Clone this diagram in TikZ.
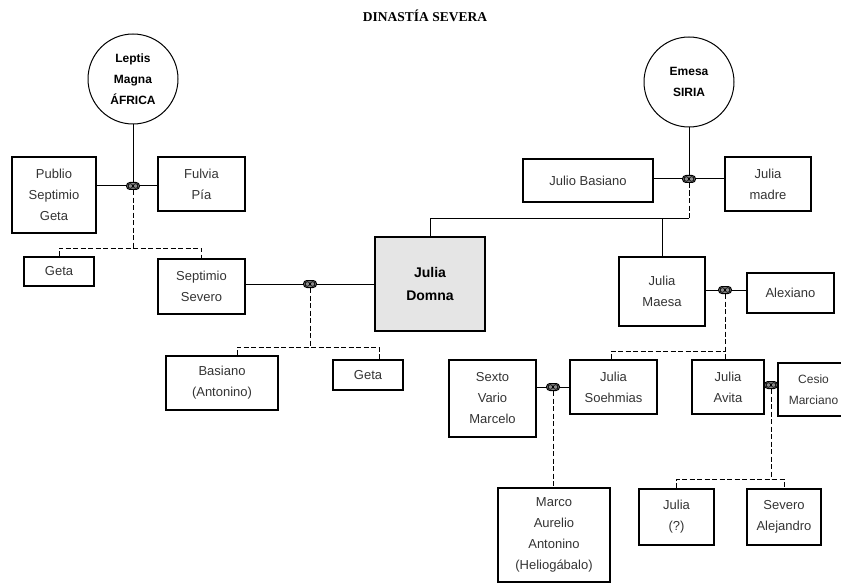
\documentclass[tikz,border=0pt]{standalone}
\usepackage{fontspec}
\setmainfont{Liberation Sans}
\newfontfamily\titlefont{Liberation Serif}
\usetikzlibrary{positioning}

\begin{document}
\begin{tikzpicture}[x=1pt, y=-1pt, line width=1pt,
        persona/.style 2 args={draw, line width=1.1pt, inner sep=0pt, align=center,
                minimum width=#1pt, minimum height=#2pt, text=black!80,
                font=\fontsize{13}{21}\selectfont},
        lugar/.style={circle, draw, line width=1pt, minimum size=90pt, inner sep=0pt,
                align=center, font=\bfseries\fontsize{12}{21}\selectfont},
        boda/.style={draw, fill=black!45, rectangle, rounded corners=3.4pt, inner sep=0pt,
                minimum width=13pt, minimum height=7pt,
                path picture={\draw[line width=0.7pt]
                  ([xshift=-2.6pt]path picture bounding box.center) circle (2.3pt)
                  ([xshift=2.6pt]path picture bounding box.center) circle (2.3pt);}},
        hijo/.style={dash pattern=on 5pt off 2.5pt}]
  \path[use as bounding box, clip] (0,0) rectangle (841,583);

  \node[font=\titlefont\bfseries\fontsize{13.5}{15}\selectfont] (tit) at (425,16) {DINASTÍA SEVERA};

  % familia de Leptis Magna
  \node[lugar] (lep) at (133,79) {Leptis\\Magna\\ÁFRICA};
  \node[persona={84}{76}] (pub) at (54,195) {Publio\\Septimio\\Geta};
  \node[persona={87}{54}] (ful) at (201.5,184) {Fulvia\\Pía};
  \node[boda] (b1) at (133,186) {};
  \coordinate (j1) at (133,248);
  \node[persona={70}{29}] (get1) at (59,271.5) {Geta};
  \node[persona={87}{55}] (sev) at (201.5,286.5) {Septimio\\Severo};

  \node[persona={110}{94}, fill=black!10, text=black,
        font=\bfseries\fontsize{14}{23}\selectfont] (dom) at (430,284) {Julia\\Domna};
  \node[boda] (b2) at (310,284) {};
  \coordinate (j2) at (310,347);
  \node[persona={112}{54}] (bas) at (222,383) {Basiano\\(Antonino)};
  \node[persona={70}{30}] (get2) at (368,375) {Geta};

  % familia de Emesa
  \node[lugar] (eme) at (689,82) {Emesa\\SIRIA};
  \node[persona={130}{43}] (jba) at (588,180.5) {Julio Basiano};
  \node[persona={86}{54}] (jma) at (768,184) {Julia\\madre};
  \node[boda] (b3) at (689,179) {};
  \coordinate (j3) at (689,218);
  \node[persona={86}{69}] (mae) at (662,291.5) {Julia\\Maesa};
  \node[persona={87}{40}] (ale) at (790.5,293) {Alexiano};
  \node[boda] (b4) at (725,290) {};
  \coordinate (j4) at (725,351);
  \node[persona={87}{77}] (sex) at (492.5,398.5) {Sexto\\Vario\\Marcelo};
  \node[persona={87}{54}] (soe) at (613.5,387) {Julia\\Soehmias};
  \node[boda] (b5) at (553,387) {};
  \node[persona={72}{54}] (avi) at (728,387) {Julia\\Avita};
  \node[persona={87}{53}] (ces) at (821.5,389.5) {};
  \node[align=center, inner sep=0pt, text=black!80,
        font=\fontsize{12}{21}\selectfont] (cesnom) at (813.5,389.5) {Cesio\\Marciano};
  \node[boda] (b6) at (771,385) {};
  \coordinate (j6) at (771,479);
  \node[persona={112}{94}] (mar) at (554,535) {Marco\\Aurelio\\Antonino\\(Heliogábalo)};
  \node[persona={75}{56}] (jul) at (676.5,517) {Julia\\(?)};
  \node[persona={74}{56}] (sal) at (784,517) {Severo\\Alejandro};

  % uniones
  \draw (lep) -- (b1);
  \draw (pub.east |- b1) -- (b1) -- (ful.west |- b1);
  \draw[hijo] (b1) -- (j1);
  \draw[hijo] (get1.north) |- (j1) -| (sev.north);

  \draw (sev.east |- b2) -- (b2) -- (dom.west |- b2);
  \draw[hijo] (b2) -- (j2);
  \draw[hijo] ([xshift=15pt]bas.north) |- (j2) -| ([xshift=11pt]get2.north);

  \draw (eme) -- (b3);
  \draw (jba.east |- b3) -- (b3) -- (jma.west |- b3);
  \draw[hijo] (b3) -- (j3);
  \draw (dom.north) |- (j3);
  \draw (mae.north) -- (mae.north |- j3);

  \draw (mae.east |- b4) -- (b4) -- (ale.west |- b4);
  \draw[hijo] (b4) -- (b4 |- avi.north);
  \draw[hijo] ([xshift=-2pt]soe.north) |- (j4);

  \draw (sex.east |- b5) -- (b5) -- (soe.west |- b5);
  \draw[hijo] (b5) -- (b5 |- mar.north);

  \draw (avi.east |- b6) -- (b6) -- (ces.west |- b6);
  \draw[hijo] (b6) -- (j6);
  \draw[hijo] (jul.north) |- (j6) -| (sal.north);
\end{tikzpicture}
\end{document}
